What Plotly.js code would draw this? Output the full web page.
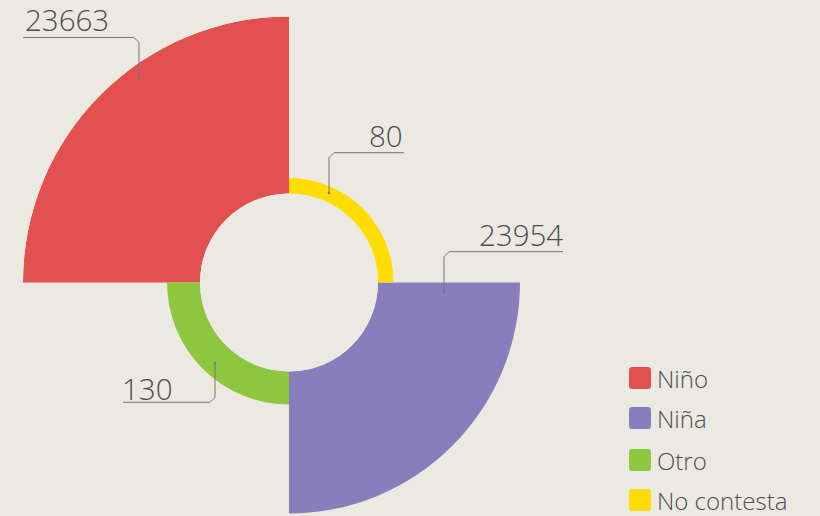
<!DOCTYPE html>
<html>
<head>
<meta charset="utf-8">
<script src="https://cdn.plot.ly/plotly-3.0.1.min.js"></script>
<style>
html,body{margin:0;padding:0;overflow:hidden;background:#ece9e3;}
#chart{width:820px;height:560px;}
</style>
</head>
<body>
<div id="chart"></div>
<script>
// Data
var categories = ["Niño", "Niña", "Otro", "No contesta"];
var values = [23663, 23954, 130, 80];
// sector depth (radial units beyond the hole)
var sectorSize = [177, 142, 33, 15.5];
var sectorAngle = [135, 315, 225, 45];
var colors = ["#e35050", "#877ebb", "#8dc63f", "#ffdd00"];

var W = 820, H = 560;
function px(x){ return x / W; }
function py(y){ return (H - y) / H; }
var FONT = "'Open Sans', 'Noto Sans', sans-serif";

var traces = categories.map(function(c, i){
  return {
    type: "barpolar",
    name: c,
    r: [sectorSize[i]],
    theta: [sectorAngle[i]],
    width: [90],
    marker: {color: colors[i], line: {width: 0}},
    text: [String(values[i])],
    hoverinfo: "name+text",
    showlegend: false
  };
});

// leader lines (elbow) and label positions, per category index
var leaders = [
  {cat: 0, pts: [[23, 37.5], [134, 37.5], [139, 42.5], [139, 78]], tx: 23, ty: 20, anchor: "left"},
  {cat: 3, pts: [[404, 152.7], [334, 152.7], [329, 157.7], [329, 193]], tx: 405, ty: 135, anchor: "right"},
  {cat: 1, pts: [[563, 251.7], [449, 251.7], [444, 256.7], [444, 292]], tx: 565, ty: 235, anchor: "right"},
  {cat: 2, pts: [[123, 402.3], [210, 402.3], [215, 397.3], [215, 363]], tx: 120, ty: 388, anchor: "left"}
];

var shapes = [];
var annotations = [];
leaders.forEach(function(l){
  var d = "M" + l.pts.map(function(p){ return px(p[0]).toFixed(5) + "," + py(p[1]).toFixed(5); }).join(" L");
  shapes.push({type: "path", xref: "paper", yref: "paper", path: d, line: {color: "#777777", width: 1}});
  var end = l.pts[l.pts.length - 1];
  shapes.push({type: "circle", xref: "paper", yref: "paper",
    x0: px(end[0] - 1.2), x1: px(end[0] + 1.2), y0: py(end[1] - 1.2), y1: py(end[1] + 1.2),
    fillcolor: "#777777", line: {width: 0}});
  annotations.push({xref: "paper", yref: "paper", x: px(l.tx), y: py(l.ty),
    xanchor: l.anchor, yanchor: "middle", showarrow: false,
    text: String(values[l.cat]),
    font: {family: FONT, size: 29.5, color: "#4d4d4d", weight: 300}});
});

// custom legend
var legY = [378, 418, 460, 500];
categories.forEach(function(c, i){
  var x0 = 629, x1 = 651, y0 = legY[i] - 11, y1 = legY[i] + 11, rr = 3;
  var d = "M" + px(x0 + rr) + "," + py(y0) +
          " L" + px(x1 - rr) + "," + py(y0) +
          " Q" + px(x1) + "," + py(y0) + " " + px(x1) + "," + py(y0 + rr) +
          " L" + px(x1) + "," + py(y1 - rr) +
          " Q" + px(x1) + "," + py(y1) + " " + px(x1 - rr) + "," + py(y1) +
          " L" + px(x0 + rr) + "," + py(y1) +
          " Q" + px(x0) + "," + py(y1) + " " + px(x0) + "," + py(y1 - rr) +
          " L" + px(x0) + "," + py(y0 + rr) +
          " Q" + px(x0) + "," + py(y0) + " " + px(x0 + rr) + "," + py(y0) + " Z";
  shapes.push({type: "path", xref: "paper", yref: "paper", path: d, fillcolor: colors[i], line: {width: 0}});
  annotations.push({xref: "paper", yref: "paper", x: px(656), y: py(legY[i]),
    xanchor: "left", yanchor: "middle", showarrow: false, text: c, borderpad: 0,
    font: {family: FONT, size: 24, color: "#4d4d4d", weight: 300}});
});

var layout = {
  width: W, height: H,
  margin: {l: 0, r: 0, t: 0, b: 0},
  paper_bgcolor: "#ece9e3",
  plot_bgcolor: "#ece9e3",
  showlegend: false,
  polar: {
    domain: {x: [23 / W, 555 / W], y: [11.5 / H, 543.5 / H]},
    bgcolor: "rgba(0,0,0,0)",
    hole: 89 / 266,
    radialaxis: {visible: false, range: [0, 177]},
    angularaxis: {visible: false, rotation: 0, direction: "counterclockwise"},
    gridshape: "circular"
  },
  shapes: shapes,
  annotations: annotations
};

Plotly.newPlot("chart", traces, layout, {displayModeBar: false, staticPlot: true});
</script>
</body>
</html>
